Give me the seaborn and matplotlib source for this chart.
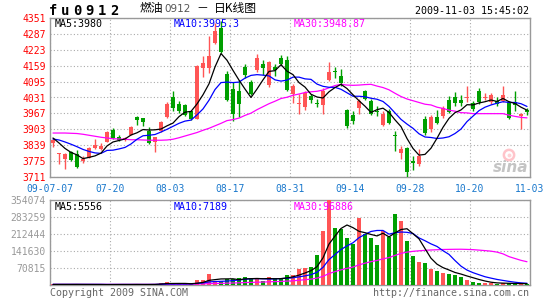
import numpy as np
import matplotlib
matplotlib.use("Agg")
import matplotlib.pyplot as plt
import seaborn as sns

# ---------------- data ----------------
x_tick_labels = ["09-07-07", "07-20", "08-03", "08-17", "08-31", "09-14", "09-28", "10-20", "11-03"]
price_ticks = [3711, 3775, 3839, 3903, 3967, 4031, 4095, 4159, 4223, 4287, 4351]
volume_ticks = [70815, 141630, 212444, 283259, 354074]

opens = [3847, 3803, 3784, 3812, 3804, 3774, 3788, 3826, 3823, 3851,
         3902, 3874, 3862, 3882, 3951, 3947, 3898, 3850, 3895, 3952,
         4034, 4003, 4002, 3975, 3946, 4150, 4150, 4249, 4311, 4125,
         4065, 4056, 4154, 4092, 4140, 4165, 4083, 4155, 4192, 4180,
         4047, 4004, 3993, 4036, 4010, 4001, 4101, 4139, 4119, 3980,
         3960, 3988, 4058, 4015, 3977, 3921, 3977, 3878, 3809, 3826,
         3775, 3764, 3943, 3903, 3953, 3957, 4021, 4031, 4021, 4029,
         4007, 4058, 4030, 4011, 4015, 4015, 4011, 4011, 3955, 3982]
highs = [3869, 3808, 3806, 3816, 3821, 3795, 3830, 3862, 3846, 3896,
         3909, 3879, 3873, 3918, 3956, 3949, 3912, 3873, 3936, 4014,
         4059, 4018, 4006, 3978, 4160, 4200, 4280, 4330, 4340, 4139,
         4095, 4100, 4166, 4100, 4207, 4180, 4176, 4167, 4202, 4200,
         4085, 4044, 4058, 4044, 4024, 4069, 4172, 4152, 4146, 3985,
         3977, 4024, 4062, 4024, 3997, 3977, 3984, 3896, 3836, 3833,
         3795, 3822, 3957, 3960, 3980, 3997, 4037, 4054, 4041, 4078,
         4018, 4069, 4051, 4048, 4031, 4078, 4018, 4056, 3967, 3990]
lows = [3831, 3763, 3745, 3774, 3747, 3768, 3786, 3824, 3820, 3850,
        3865, 3856, 3855, 3880, 3920, 3915, 3844, 3811, 3893, 3950,
        3976, 3970, 3955, 3942, 3944, 4114, 4130, 4245, 4210, 4018,
        3938, 3952, 4110, 4040, 4134, 4120, 4074, 4118, 4160, 4058,
        4007, 3964, 3981, 4007, 3991, 3966, 4098, 4109, 4078, 3910,
        3923, 3964, 4020, 3961, 3957, 3917, 3924, 3816, 3782, 3711,
        3741, 3754, 3879, 3892, 3923, 3950, 3970, 3997, 3997, 4011,
        3977, 4004, 4021, 4004, 3997, 4011, 3944, 3976, 3904, 3960]
closes = [3858, 3806, 3804, 3781, 3750, 3785, 3828, 3838, 3834, 3893,
          3867, 3860, 3866, 3914, 3940, 3932, 3847, 3871, 3932, 4003,
          3987, 3976, 3961, 3946, 4156, 4170, 4198, 4300, 4214, 4021,
          3965, 4003, 4121, 4047, 4190, 4148, 4172, 4140, 4165, 4062,
          4078, 4010, 4050, 4020, 4006, 4058, 4135, 4135, 4088, 3917,
          3937, 4015, 4024, 3964, 3971, 3966, 3930, 3876, 3825, 3731,
          3768, 3795, 3889, 3953, 3930, 3987, 3974, 4007, 4007, 4034,
          3984, 4011, 4034, 4042, 4004, 4042, 3948, 4000, 3965, 3972]

ma5 = [3868, 3848, 3826, 3810, 3800, 3785, 3790, 3796, 3807, 3836,
       3852, 3858, 3864, 3880, 3889, 3902, 3900, 3901, 3904, 3917,
       3928, 3954, 3972, 3975, 4005, 4042, 4086, 4154, 4208, 4181,
       4140, 4101, 4065, 4031, 4065, 4102, 4136, 4139, 4163, 4137,
       4123, 4091, 4073, 4044, 4033, 4029, 4054, 4071, 4084, 4067,
       4042, 4018, 3996, 3971, 3982, 3988, 3971, 3941, 3914, 3866,
       3826, 3799, 3802, 3827, 3867, 3911, 3947, 3970, 3981, 4002,
       4001, 4009, 4014, 4021, 4015, 4027, 4014, 4007, 3992, 3980]
ma10 = [3864, 3860, 3852, 3843, 3833, 3822, 3814, 3808, 3806, 3818,
        3819, 3824, 3830, 3844, 3863, 3877, 3879, 3882, 3892, 3903,
        3915, 3927, 3936, 3940, 3961, 3985, 4020, 4063, 4091, 4093,
        4091, 4093, 4109, 4120, 4123, 4121, 4118, 4102, 4097, 4101,
        4113, 4113, 4106, 4104, 4085, 4076, 4072, 4072, 4064, 4050,
        4036, 4036, 4034, 4028, 4024, 4015, 3995, 3969, 3943, 3924,
        3907, 3885, 3872, 3870, 3866, 3868, 3873, 3886, 3904, 3934,
        3956, 3978, 3992, 4001, 4008, 4014, 4011, 4011, 4006, 3995]
ma30 = [3888, 3888, 3888, 3887, 3886, 3883, 3879, 3875, 3871, 3868,
        3865, 3864, 3863, 3861, 3861, 3860, 3859, 3859, 3859, 3860,
        3863, 3869, 3876, 3883, 3890, 3899, 3907, 3917, 3927, 3938,
        3942, 3948, 3959, 3968, 3982, 3994, 4006, 4016, 4027, 4032,
        4040, 4045, 4051, 4054, 4056, 4061, 4070, 4079, 4084, 4081,
        4080, 4081, 4083, 4084, 4077, 4071, 4062, 4048, 4035, 4025,
        4018, 4011, 4004, 4001, 3992, 3987, 3980, 3976, 3970, 3969,
        3966, 3966, 3966, 3966, 3966, 3966, 3960, 3955, 3951, 3949]

volumes = [3000, 2500, 2000, 2500, 3000, 2000, 2000, 1500, 2000, 1500,
           3000, 2500, 2000, 2000, 2500, 2000, 2500, 3000, 9700, 12500,
           4200, 3500, 3000, 3500, 22200, 22200, 45800, 18000, 18000, 23600,
           23600, 27800, 33300, 23600, 27800, 18000, 31900, 27800, 27800, 41700,
           41700, 66700, 72200, 76400, 125000, 225000, 354074, 238800, 234700, 197200,
           169400, 277700, 211100, 197200, 166600, 225000, 201400, 295800, 266600, 183300,
           120000, 96000, 92000, 66000, 60000, 48000, 47000, 40000, 33000, 20000,
           12000, 10000, 8500, 7500, 6110, 6500, 7000, 5500, 4780, 4000]
vol_ma5 = [2500, 2500, 2500, 2500, 2600, 2400, 2300, 2200, 2100, 1800,
           2000, 2100, 2200, 2200, 2400, 2200, 2200, 2400, 3940, 5940,
           6380, 6580, 6580, 5340, 7280, 10880, 19340, 22340, 25240, 25520,
           25800, 22200, 25260, 26380, 27220, 26100, 26920, 25820, 26660, 29440,
           34180, 41140, 50020, 59740, 76400, 113060, 170535, 203855, 235515, 249955,
           238835, 223560, 218020, 210520, 204400, 215520, 200260, 217200, 231080, 234420,
           213420, 192340, 151580, 111460, 86800, 72400, 62600, 52200, 45600, 37600,
           30400, 23000, 16700, 11600, 8822, 7722, 7122, 6522, 5978, 5556]
vol_ma10 = [2500, 2500, 2500, 2500, 2500, 2500, 2500, 2500, 2500, 2200,
            2200, 2200, 2200, 2150, 2100, 2100, 2150, 2300, 3070, 4170,
            4290, 4390, 4490, 4640, 6610, 8630, 12960, 14460, 15290, 16400,
            18340, 20770, 23800, 25810, 26370, 25950, 24560, 25540, 26520, 28330,
            30140, 34030, 37920, 43200, 52920, 73620, 105837, 126937, 147627, 163177,
            175947, 197047, 210937, 223017, 227177, 227177, 211910, 217610, 220800, 219410,
            214470, 196300, 184390, 171270, 160610, 142910, 127470, 101890, 78530, 62200,
            51400, 42800, 34450, 28600, 23211, 19061, 15061, 11611, 8789, 7189]
vol_ma30 = [2500, 2500, 2500, 2500, 2500, 2500, 2500, 2500, 2500, 2500,
            2500, 2500, 2500, 2500, 2500, 2500, 2500, 2500, 2700, 3000,
            3100, 3200, 3300, 3400, 4000, 4600, 6000, 6500, 7000, 7590,
            8277, 9120, 10163, 10867, 11693, 12227, 13223, 14100, 14960, 16300,
            17590, 19730, 22070, 24550, 28633, 36067, 47786, 55646, 63146, 69302,
            74809, 83949, 90886, 97342, 102156, 108916, 114102, 123362, 131649, 136972,
            140186, 142459, 144416, 145829, 146902, 147902, 148406, 148812, 148986, 148262,
            147272, 145382, 143259, 140962, 136999, 129716, 118147, 110370, 102706, 96886]

# ---------------- style ----------------
sns.set_style("white")
plt.rcParams["font.family"] = ["DejaVu Sans Mono", "Noto Sans CJK SC", "DejaVu Sans"]

RED = "#FF5555"
GREEN = "#009F00"
GRID = "#AAAAAA"
FRAME = "#999999"
TICKBLUE = "#1A78CC"

W, H = 545, 300
fig = plt.figure(figsize=(W / 100, H / 100), dpi=100)
fig.patch.set_facecolor("white")


def fbox(x0, y0, x1, y1):
    return [x0 / W, 1 - y1 / H, (x1 - x0) / W, (y1 - y0) / H]


def ftext(px, py, s, **kw):
    fig.text(px / W, 1 - py / H, s, **kw)


ax = fig.add_axes(fbox(50, 18, 530, 177))
axv = fig.add_axes(fbox(50, 200, 530, 285))

n = len(closes)
idx = np.arange(n)
o = np.array(opens, float)
c = np.array(closes, float)
hi = np.array(highs, float)
lo = np.array(lows, float)
colors = np.where(c >= o, RED, GREEN)

# ---------------- price panel ----------------
# sina watermark (behind everything): grey word plus a pink "eye" ring
ax.text((511 - 50) / 480, (177 - 167) / 159, "sina", transform=ax.transAxes,
        ha="center", va="center", fontsize=11, fontstyle="italic",
        fontweight="bold", color="#C4C4C4", family="DejaVu Sans", zorder=1)
ax.scatter([(509 - 50) / 480], [(177 - 155) / 159], transform=ax.transAxes,
           s=55, facecolors="none", edgecolors="#FFC4CA", linewidths=1.8, zorder=1)
ax.scatter([(509 - 50) / 480], [(177 - 155) / 159], transform=ax.transAxes,
           s=8, color="#FFD2D6", linewidths=0, zorder=1)

ax.vlines(idx, lo, hi, colors=colors, linewidth=1.0, zorder=3)
body_bottom = np.minimum(o, c)
body_h = np.maximum(np.abs(c - o), 3.0)
ax.bar(idx, body_h, bottom=body_bottom, width=0.75, color=colors, linewidth=0, zorder=3)

sns.lineplot(x=idx, y=np.array(ma30, float), ax=ax, color="#FF00FF", linewidth=0.9, zorder=4)
sns.lineplot(x=idx, y=np.array(ma10, float), ax=ax, color="#0000FF", linewidth=0.9, zorder=4)
sns.lineplot(x=idx, y=np.array(ma5, float), ax=ax, color="black", linewidth=0.9, zorder=4)

ax.set_xlim(-0.5, n - 0.5)
ax.set_ylim(price_ticks[0], price_ticks[-1])
ax.set_yticks(price_ticks)
ax.set_yticklabels([str(t) for t in price_ticks], color="#FF0000", fontsize=7)
tick_pos = [-0.5 + 10 * k for k in range(len(x_tick_labels))]
ax.set_xticks(tick_pos)
ax.set_xticklabels(x_tick_labels, color=TICKBLUE, fontsize=7)
ax.tick_params(axis="y", length=0, pad=3)
ax.tick_params(axis="x", length=0, pad=5)
ax.set_xlabel("")
ax.set_ylabel("")
ax.grid(True, color=GRID, linestyle=(0, (1, 2)), linewidth=0.8)
ax.set_axisbelow(True)
for sp in ax.spines.values():
    sp.set_color(FRAME)
    sp.set_linewidth(1.0)

# ---------------- volume panel ----------------
axv.bar(idx, volumes, width=0.78, color=colors, linewidth=0, zorder=3)
sns.lineplot(x=idx, y=np.array(vol_ma30, float), ax=axv, color="#FF00FF", linewidth=0.9, zorder=4)
sns.lineplot(x=idx, y=np.array(vol_ma10, float), ax=axv, color="#0000FF", linewidth=0.9, zorder=4)
sns.lineplot(x=idx, y=np.array(vol_ma5, float), ax=axv, color="black", linewidth=0.9, zorder=4)
axv.set_xlim(-0.5, n - 0.5)
axv.set_ylim(0, volume_ticks[-1])
axv.set_yticks(volume_ticks)
axv.set_yticklabels([str(t) for t in volume_ticks], color="#999999", fontsize=7)
axv.set_xticks(tick_pos)
axv.set_xticklabels([])
axv.tick_params(axis="both", length=0, pad=3)
axv.set_xlabel("")
axv.set_ylabel("")
axv.grid(True, color=GRID, linestyle=(0, (1, 2)), linewidth=0.8)
axv.set_axisbelow(True)
for sp in axv.spines.values():
    sp.set_color(FRAME)
    sp.set_linewidth(1.0)

# ---------------- texts ----------------
for k, ch in enumerate("fu0912"):
    ftext(53 + 12.2 * k, 11, ch, ha="center", va="center", fontsize=10,
          fontweight="bold", family="DejaVu Sans Mono", color="black")
ftext(140, 8.5, "燃油", ha="left", va="center", fontsize=8.5,
      family=["Noto Sans CJK SC", "DejaVu Sans"], color="black")
ftext(164, 8.5, "0912", ha="left", va="center", fontsize=7.5,
      family="DejaVu Sans", color="#555555")
ftext(196, 8.5, "－", ha="left", va="center", fontsize=8.5,
      family=["Noto Sans CJK SC", "DejaVu Sans"], color="black")
ftext(214, 8.5, "日K线图", ha="left", va="center", fontsize=8.5,
      family=["Noto Sans CJK SC", "DejaVu Sans"], color="black")
ftext(529, 11.5, "2009-11-03 15:45:02", ha="right", va="center", fontsize=7.2, color="black")

ftext(55, 24, "MA5:3980", ha="left", va="center", fontsize=7.2, color="black")
ftext(174, 24, "MA10:3995.3", ha="left", va="center", fontsize=7.2, color="#0000FF")
ftext(294, 24, "MA30:3948.87", ha="left", va="center", fontsize=7.2, color="#FF00FF")

ftext(55, 207, "MA5:5556", ha="left", va="center", fontsize=7.2, color="black")
ftext(174, 207, "MA10:7189", ha="left", va="center", fontsize=7.2, color="#0000FF")
ftext(294, 207, "MA30:96886", ha="left", va="center", fontsize=7.2, color="#FF00FF")

ftext(50, 293, "Copyright 2009 SINA.COM", ha="left", va="center", fontsize=7.2, color="#666666")
ftext(529, 293, "http://finance.sina.com.cn", ha="right", va="center", fontsize=7.2, color="#666666")

fig.savefig("out.png", dpi=100, facecolor="white")
